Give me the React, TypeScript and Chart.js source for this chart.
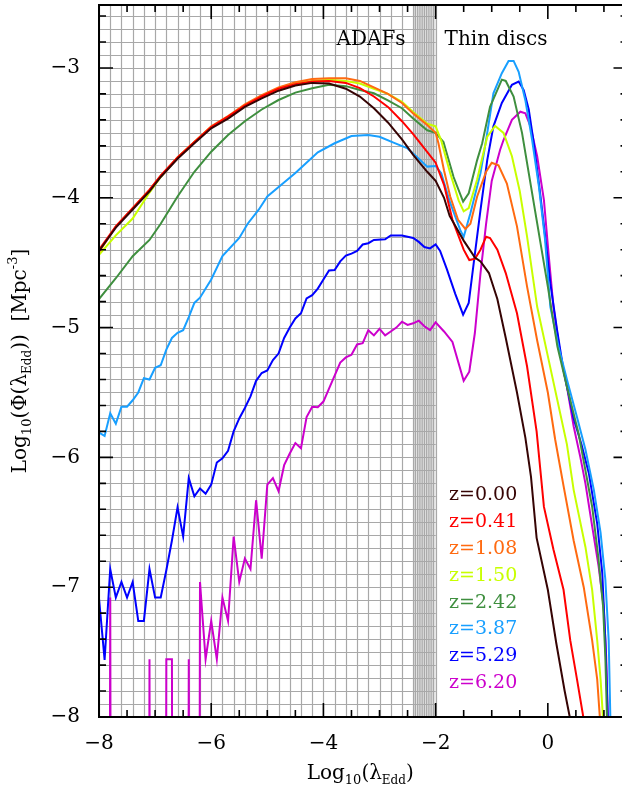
import React, { useEffect, useRef } from "react";
import { Chart, registerables } from "chart.js";

Chart.register(...registerables);

// log10 of an empty bin: the curve drops straight out of the frame
const EMPTY = -30;

const redshiftLabels = ["z=0.00", "z=0.41", "z=1.08", "z=1.50", "z=2.42", "z=3.87", "z=5.29", "z=6.20"];
const seriesColors = ["#360404", "#ff0000", "#ff6a10", "#c8ff00", "#3f8f3f", "#189fff", "#0000ff", "#cc00cc"];

const xZ000 = [-8.0, -7.7, -7.4, -7.1, -6.9, -6.6, -6.3, -6.0, -5.7, -5.4, -5.1, -4.8, -4.5, -4.2, -3.9, -3.6, -3.35, -3.1, -2.85, -2.6, -2.4, -2.15, -2.0, -1.85, -1.75, -1.5, -1.3, -1.2, -1.05, -0.9, -0.75, -0.55, -0.4, -0.3, -0.2, 0.0, 0.15, 0.3, 0.4];
const yZ000 = [-4.41, -4.23, -4.09, -3.95, -3.84, -3.7, -3.58, -3.465, -3.39, -3.3, -3.235, -3.175, -3.135, -3.115, -3.12, -3.16, -3.22, -3.31, -3.42, -3.55, -3.67, -3.8, -3.87, -4.0, -4.14, -4.33, -4.46, -4.49, -4.58, -4.78, -5.08, -5.5, -5.85, -6.15, -6.62, -7.02, -7.43, -7.8, -8.02];

const xZ041 = [-8.0, -7.7, -7.4, -7.1, -6.9, -6.6, -6.3, -6.0, -5.7, -5.4, -5.1, -4.8, -4.5, -4.2, -3.9, -3.6, -3.35, -3.1, -2.85, -2.6, -2.4, -2.2, -2.0, -1.85, -1.7, -1.5, -1.4, -1.3, -1.2, -1.1, -1.03, -0.9, -0.75, -0.55, -0.37, -0.2, -0.07, 0.1, 0.28, 0.4, 0.52, 0.64];
const yZ041 = [-4.4, -4.22, -4.08, -3.94, -3.83, -3.69, -3.57, -3.455, -3.375, -3.29, -3.22, -3.16, -3.125, -3.105, -3.1, -3.115, -3.155, -3.22, -3.3, -3.41, -3.51, -3.62, -3.73, -3.9, -4.17, -4.4, -4.48, -4.47, -4.4, -4.3, -4.31, -4.4, -4.58, -4.89, -5.3, -5.8, -6.38, -6.71, -7.02, -7.41, -7.71, -8.02];

const xZ108 = [-8.0, -7.7, -7.4, -7.1, -6.9, -6.6, -6.3, -6.0, -5.7, -5.4, -5.1, -4.8, -4.5, -4.2, -3.9, -3.6, -3.35, -3.1, -2.85, -2.6, -2.4, -2.15, -2.0, -1.95, -1.85, -1.74, -1.6, -1.47, -1.38, -1.26, -1.1, -1.0, -0.88, -0.73, -0.55, -0.37, -0.19, 0.0, 0.13, 0.28, 0.46, 0.64, 0.79, 0.88, 0.93];
const yZ108 = [-4.42, -4.22, -4.08, -3.94, -3.83, -3.69, -3.57, -3.45, -3.37, -3.28, -3.21, -3.15, -3.11, -3.085, -3.08, -3.08, -3.1, -3.15, -3.2, -3.27, -3.35, -3.44, -3.5, -3.58, -3.79, -3.99, -4.17, -4.24, -4.2, -3.99, -3.8, -3.73, -3.75, -3.89, -4.22, -4.685, -5.1, -5.5, -5.86, -6.22, -6.64, -7.0, -7.41, -7.71, -8.02];

const xZ150 = [-8.0, -7.7, -7.4, -7.1, -6.9, -6.6, -6.3, -6.0, -5.7, -5.4, -5.1, -4.8, -4.5, -4.2, -3.9, -3.6, -3.35, -3.1, -2.85, -2.6, -2.4, -2.15, -2.0, -1.9, -1.74, -1.59, -1.5, -1.41, -1.26, -1.08, -0.94, -0.79, -0.64, -0.5, -0.37, -0.19, 0.0, 0.17, 0.34, 0.46, 0.67, 0.79, 0.88, 0.94, 0.985];
const yZ150 = [-4.44, -4.29, -4.16, -3.96, -3.84, -3.69, -3.57, -3.455, -3.375, -3.29, -3.22, -3.16, -3.12, -3.1, -3.09, -3.1, -3.12, -3.16, -3.2, -3.26, -3.34, -3.43, -3.45, -3.56, -3.81, -4.02, -4.105, -4.08, -3.86, -3.53, -3.447, -3.5, -3.68, -3.95, -4.3, -4.84, -5.22, -5.56, -5.9, -6.25, -6.69, -7.02, -7.41, -7.71, -8.02];

const xZ242 = [-8.0, -7.7, -7.4, -7.1, -6.9, -6.6, -6.3, -6.0, -5.7, -5.4, -5.1, -4.8, -4.5, -4.2, -3.9, -3.6, -3.35, -3.1, -2.85, -2.6, -2.4, -2.15, -2.0, -1.86, -1.68, -1.51, -1.41, -1.26, -1.17, -1.03, -0.82, -0.75, -0.61, -0.46, -0.34, -0.2, 0.0, 0.17, 0.34, 0.55, 0.79, 0.9, 0.985, 1.025, 1.055];
const yZ242 = [-4.78, -4.62, -4.45, -4.325, -4.2, -3.99, -3.8, -3.645, -3.516, -3.41, -3.32, -3.247, -3.19, -3.157, -3.13, -3.14, -3.17, -3.195, -3.25, -3.31, -3.39, -3.48, -3.5, -3.57, -3.84, -4.03, -3.965, -3.71, -3.58, -3.3, -3.09, -3.1, -3.22, -3.5, -3.81, -4.17, -4.685, -5.145, -5.456, -5.82, -6.38, -6.77, -7.15, -7.535, -8.02];

const xZ387 = [-8.0, -7.9, -7.8, -7.7, -7.6, -7.5, -7.4, -7.3, -7.2, -7.1, -7.0, -6.9, -6.8, -6.7, -6.6, -6.5, -6.4, -6.3, -6.2, -6.0, -5.8, -5.5, -5.35, -5.15, -5.0, -4.75, -4.5, -4.35, -4.1, -3.8, -3.5, -3.2, -3.0, -2.75, -2.5, -2.3, -2.15, -2.0, -1.9, -1.74, -1.56, -1.5, -1.38, -1.2, -1.1, -0.97, -0.82, -0.7, -0.61, -0.52, -0.4, -0.28, -0.16, -0.05, 0.045, 0.19, 0.34, 0.52, 0.67, 0.82, 0.94, 1.025, 1.085, 1.115];
const yZ387 = [-5.81, -5.835, -5.66, -5.74, -5.61, -5.61, -5.56, -5.5, -5.39, -5.4, -5.31, -5.29, -5.17, -5.08, -5.04, -5.02, -4.92, -4.81, -4.77, -4.63, -4.45, -4.31, -4.2, -4.09, -3.99, -3.9, -3.81, -3.75, -3.65, -3.58, -3.524, -3.516, -3.53, -3.575, -3.62, -3.7, -3.76, -3.755, -3.81, -4.04, -4.25, -4.3, -4.12, -3.81, -3.555, -3.195, -3.04, -2.946, -2.946, -3.03, -3.25, -3.555, -3.91, -4.32, -4.84, -5.145, -5.4, -5.69, -5.94, -6.25, -6.58, -6.94, -7.41, -8.02];

const xZ529 = [-8.0, -7.9, -7.8, -7.7, -7.6, -7.5, -7.4, -7.3, -7.2, -7.1, -7.0, -6.9, -6.8, -6.7, -6.6, -6.5, -6.4, -6.3, -6.2, -6.1, -6.0, -5.9, -5.8, -5.7, -5.6, -5.5, -5.4, -5.3, -5.2, -5.1, -5.0, -4.9, -4.8, -4.7, -4.6, -4.5, -4.4, -4.3, -4.2, -4.1, -4.0, -3.9, -3.8, -3.7, -3.6, -3.5, -3.4, -3.3, -3.2, -3.1, -2.9, -2.8, -2.6, -2.4, -2.3, -2.2, -2.1, -2.0, -1.92, -1.8, -1.65, -1.51, -1.41, -1.32, -1.2, -1.08, -0.97, -0.82, -0.64, -0.52, -0.43, -0.34, -0.25, -0.145, -0.04, 0.045, 0.165, 0.28, 0.46, 0.6, 0.73, 0.88, 0.97, 1.025, 1.07];
const yZ529 = [-7.085, -7.56, -6.86, -7.08, -6.96, -7.08, -6.96, -7.26, -7.26, -6.86, -7.08, -7.08, -6.87, -6.64, -6.385, -6.61, -6.16, -6.3, -6.24, -6.28, -6.21, -6.04, -6.007, -5.95, -5.8, -5.7, -5.62, -5.53, -5.41, -5.35, -5.33, -5.25, -5.2, -5.08, -5.0, -4.93, -4.89, -4.775, -4.75, -4.7, -4.63, -4.56, -4.556, -4.49, -4.446, -4.43, -4.41, -4.36, -4.35, -4.325, -4.32, -4.29, -4.29, -4.31, -4.34, -4.38, -4.39, -4.36, -4.41, -4.55, -4.74, -4.9, -4.81, -4.5, -4.094, -3.71, -3.45, -3.27, -3.13, -3.105, -3.17, -3.32, -3.58, -3.94, -4.325, -4.66, -5.02, -5.33, -5.7, -5.9, -6.12, -6.51, -6.89, -7.41, -8.02];

const xZ620 = [-8.0, -7.9, -7.8, -7.7, -7.6, -7.5, -7.4, -7.3, -7.2, -7.1, -7.0, -6.9, -6.8, -6.7, -6.6, -6.5, -6.4, -6.3, -6.2, -6.1, -6.0, -5.9, -5.8, -5.7, -5.6, -5.5, -5.4, -5.3, -5.2, -5.1, -5.0, -4.9, -4.8, -4.7, -4.6, -4.5, -4.4, -4.3, -4.2, -4.1, -4.0, -3.9, -3.8, -3.7, -3.6, -3.5, -3.4, -3.3, -3.2, -3.1, -3.0, -2.9, -2.8, -2.7, -2.6, -2.5, -2.4, -2.3, -2.2, -2.1, -2.0, -1.85, -1.7, -1.5, -1.4, -1.3, -1.2, -1.1, -1.0, -0.85, -0.79, -0.64, -0.49, -0.4, -0.31, -0.19, -0.07, 0.015, 0.1, 0.22, 0.34, 0.46, 0.58, 0.67, 0.79, 0.905, 0.995, 1.04, 1.07];
const yZ620 = [EMPTY, EMPTY, -7.08, EMPTY, EMPTY, EMPTY, EMPTY, EMPTY, EMPTY, -7.555, EMPTY, EMPTY, -7.555, -7.555, EMPTY, EMPTY, -7.555, EMPTY, -6.96, -7.555, -7.26, -7.555, -7.08, -7.26, -6.61, -6.96, -6.78, -6.86, -6.33, -6.78, -6.21, -6.16, -6.26, -6.06, -5.97, -5.89, -5.93, -5.69, -5.61, -5.614, -5.57, -5.47, -5.37, -5.27, -5.23, -5.21, -5.13, -5.12, -5.02, -5.06, -5.01, -5.06, -5.03, -5.0, -4.955, -4.98, -4.967, -4.947, -4.99, -5.02, -4.96, -5.03, -5.11, -5.41, -5.34, -5.04, -4.58, -4.2, -3.87, -3.63, -3.555, -3.4, -3.337, -3.35, -3.45, -3.68, -4.017, -4.44, -4.84, -5.2, -5.455, -5.76, -6.0, -6.2, -6.53, -6.84, -7.15, -7.535, -8.02];

const seriesX = [xZ000, xZ041, xZ108, xZ150, xZ242, xZ387, xZ529, xZ620];
const seriesY = [yZ000, yZ041, yZ108, yZ150, yZ242, yZ387, yZ529, yZ620];

const xTickValues = [-8, -6, -4, -2, 0];
const yTickValues = [-8, -7, -6, -5, -4, -3];

const X_MIN = -8;
const X_MAX = 1.42;
const Y_MIN = -8;
const Y_MAX = -2.515;
// ADAF regime (gridded) and transition band
const ADAF_MAX = -2.0;
const BAND_MIN = -2.4;

const SERIF = "'DejaVu Serif', 'Liberation Serif', serif";

const fmt = (v: number) => (v < 0 ? "\u2212" + Math.abs(v) : String(v));

type Part = { t: string; size: number; dy?: number };

function richWidth(ctx: CanvasRenderingContext2D, parts: Part[]) {
  let w = 0;
  for (const p of parts) {
    ctx.font = `${p.size}px ${SERIF}`;
    w += ctx.measureText(p.t).width;
  }
  return w;
}

function drawRich(ctx: CanvasRenderingContext2D, parts: Part[], cx: number, baseline: number) {
  let x = cx - richWidth(ctx, parts) / 2;
  ctx.textBaseline = "alphabetic";
  ctx.textAlign = "left";
  for (const p of parts) {
    ctx.font = `${p.size}px ${SERIF}`;
    ctx.fillText(p.t, x, baseline + (p.dy || 0));
    x += ctx.measureText(p.t).width;
  }
}

const gridPlugin = {
  id: "adafGrid",
  beforeDatasetsDraw(chart: any) {
    const { ctx, chartArea: a, scales } = chart;
    const xs = scales.x;
    const ys = scales.y;
    ctx.save();
    ctx.beginPath();
    ctx.rect(a.left, a.top, a.right - a.left, a.bottom - a.top);
    ctx.clip();
    const xl = xs.getPixelForValue(X_MIN);
    const xr = xs.getPixelForValue(ADAF_MAX);
    const xb = xs.getPixelForValue(BAND_MIN);
    ctx.fillStyle = "#e2e2e2";
    ctx.fillRect(xb, a.top, xr - xb, a.bottom - a.top);
    ctx.strokeStyle = "#a8a8a8";
    ctx.lineWidth = 1.2;
    ctx.beginPath();
    for (let i = 0; i <= 30; i++) {
      const px = Math.round(xs.getPixelForValue(X_MIN + i * 0.2)) + 0.5;
      ctx.moveTo(px, a.top);
      ctx.lineTo(px, a.bottom);
    }
    for (let k = 1; k < 10; k++) {
      const px = xs.getPixelForValue(BAND_MIN + k * 0.04);
      ctx.moveTo(px, a.top);
      ctx.lineTo(px, a.bottom);
    }
    for (let j = 0; Y_MIN + j * 0.1 <= Y_MAX + 1e-6; j++) {
      const py = Math.round(ys.getPixelForValue(Y_MIN + j * 0.1)) + 0.5;
      ctx.moveTo(xl, py);
      ctx.lineTo(xr, py);
    }
    ctx.stroke();
    ctx.restore();
  },
  afterDatasetsDraw(chart: any) {
    const { ctx, chartArea: a, scales } = chart;
    const xs = scales.x;
    const ys = scales.y;
    ctx.save();
    ctx.strokeStyle = "#000";
    ctx.lineWidth = 2;
    ctx.strokeRect(a.left, a.top, a.right - a.left, a.bottom - a.top);

    // inward tick marks on all four sides
    ctx.lineWidth = 1.6;
    ctx.beginPath();
    for (let i = 0; X_MIN + i * 0.5 <= X_MAX + 1e-6; i++) {
      const v = X_MIN + i * 0.5;
      const len = i % 4 === 0 ? 14 : 7;
      const px = xs.getPixelForValue(v);
      ctx.moveTo(px, a.bottom);
      ctx.lineTo(px, a.bottom - len);
      ctx.moveTo(px, a.top);
      ctx.lineTo(px, a.top + len);
    }
    for (let j = 0; Y_MIN + j * 0.2 <= Y_MAX + 1e-6; j++) {
      const v = Y_MIN + j * 0.2;
      const len = j % 5 === 0 ? 14 : 7;
      const py = ys.getPixelForValue(v);
      ctx.moveTo(a.left, py);
      ctx.lineTo(a.left + len, py);
      ctx.moveTo(a.right, py);
      ctx.lineTo(a.right - len, py);
    }
    ctx.stroke();

    // regime labels
    ctx.fillStyle = "#000";
    ctx.font = `20px ${SERIF}`;
    ctx.textBaseline = "alphabetic";
    ctx.textAlign = "right";
    ctx.fillText("ADAFs", xs.getPixelForValue(ADAF_MAX) - 30, 45);
    ctx.textAlign = "left";
    ctx.fillText("Thin discs", xs.getPixelForValue(ADAF_MAX) + 9, 45);

    // redshift key
    ctx.font = `19px ${SERIF}`;
    ctx.textAlign = "left";
    ctx.textBaseline = "middle";
    redshiftLabels.forEach((lab, i) => {
      ctx.fillStyle = seriesColors[i];
      ctx.fillText(lab, 449, 495 + i * 26.9);
    });

    // axis titles
    ctx.fillStyle = "#000";
    const cx = (a.left + a.right) / 2 - 3;
    drawRich(
      ctx,
      [
        { t: "Log", size: 20 },
        { t: "10", size: 13, dy: 5 },
        { t: "(\u03bb", size: 20 },
        { t: "Edd", size: 12, dy: 5 },
        { t: ")", size: 20 },
      ],
      cx,
      779
    );
    ctx.save();
    ctx.translate(26, (a.top + a.bottom) / 2);
    ctx.rotate(-Math.PI / 2);
    drawRich(
      ctx,
      [
        { t: "Log", size: 20 },
        { t: "10", size: 13, dy: 5 },
        { t: "(\u03a6(\u03bb", size: 20 },
        { t: "Edd", size: 12, dy: 5 },
        { t: "))  [Mpc", size: 20 },
        { t: "-3", size: 13, dy: -9 },
        { t: "]", size: 20 },
      ],
      0,
      0
    );
    ctx.restore();
    ctx.restore();
  },
};

export default function App() {
  const canvasRef = useRef<HTMLCanvasElement | null>(null);

  useEffect(() => {
    const canvas = canvasRef.current;
    if (!canvas) return;
    const datasets = seriesY.map((ys, i) => ({
      label: redshiftLabels[i],
      data: ys.map((y, k) => ({ x: seriesX[i][k], y })),
      borderColor: seriesColors[i],
      backgroundColor: seriesColors[i],
      borderWidth: 2,
      pointRadius: 0,
      tension: 0,
      fill: false,
    }));
    const chart = new Chart(canvas, {
      type: "line",
      data: { datasets },
      options: {
        animation: false,
        responsive: false,
        maintainAspectRatio: false,
        devicePixelRatio: 1,
        layout: { padding: { left: 0, right: 12.5, top: 5, bottom: 0 } },
        plugins: { legend: { display: false }, tooltip: { enabled: false } },
        scales: {
          x: {
            type: "linear",
            min: X_MIN,
            max: X_MAX,
            border: { display: false },
            grid: { display: false, drawTicks: false },
            afterFit: (s: any) => {
              s.height = 75;
              s.paddingLeft = 0;
              s.paddingRight = 0;
              s.paddingTop = 0;
              s.paddingBottom = 0;
            },
            afterBuildTicks: (s: any) => {
              s.ticks = xTickValues.map((v) => ({ value: v }));
            },
            ticks: {
              autoSkip: false,
              maxRotation: 0,
              padding: 15,
              color: "#000",
              font: { family: SERIF, size: 20 },
              callback: (v: any) => fmt(Number(v)),
            },
          },
          y: {
            type: "linear",
            min: Y_MIN,
            max: Y_MAX,
            border: { display: false },
            grid: { display: false, drawTicks: false },
            afterFit: (s: any) => {
              s.width = 99;
              s.paddingLeft = 0;
              s.paddingRight = 0;
              s.paddingTop = 0;
              s.paddingBottom = 0;
            },
            afterBuildTicks: (s: any) => {
              s.ticks = yTickValues.map((v) => ({ value: v }));
            },
            ticks: {
              autoSkip: false,
              padding: 19,
              color: "#000",
              font: { family: SERIF, size: 20 },
              callback: (v: any) => fmt(Number(v)),
            },
          },
        },
      },
      plugins: [gridPlugin],
    } as any);
    return () => chart.destroy();
  }, []);

  return (
    <div style={{ position: "absolute", left: 0, top: 0, width: 622, height: 792, overflow: "hidden", background: "#fff" }}>
      <canvas ref={canvasRef} width={640} height={792} style={{ display: "block", width: 640, height: 792 }} />
    </div>
  );
}
